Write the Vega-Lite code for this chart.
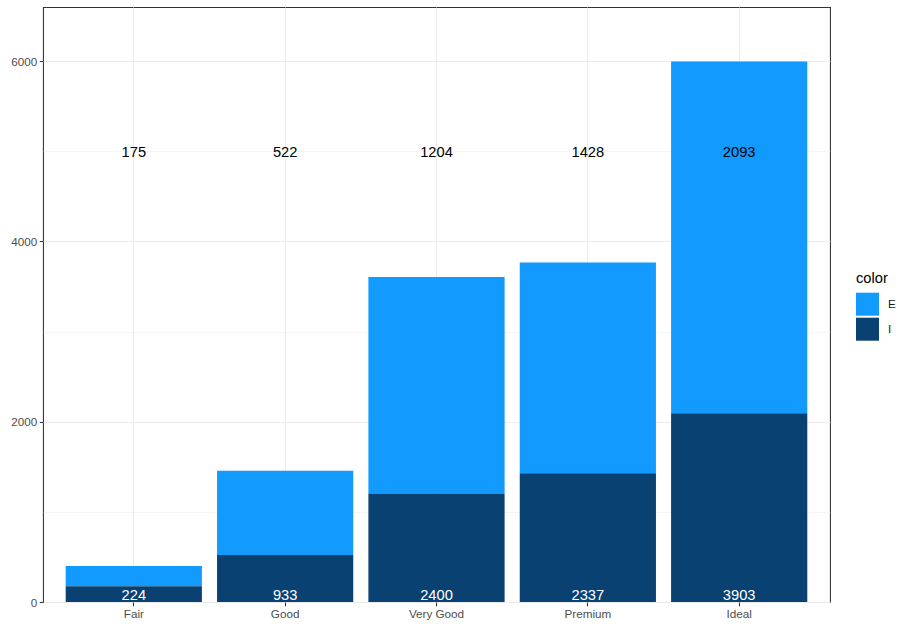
{
  "$schema": "https://vega.github.io/schema/vega-lite/v6.json",
  "width": 787,
  "height": 595,
  "autosize": {"type": "none"},
  "padding": {"left": 43, "top": 7, "right": 82, "bottom": 28},
  "background": "white",
  "config": {
    "font": "Liberation Sans",
    "view": {"stroke": "#333333", "strokeWidth": 1.07},
    "axis": {
      "domain": false,
      "gridColor": "#EBEBEB",
      "gridWidth": 1.07,
      "tickColor": "#333333",
      "tickWidth": 1.07,
      "tickSize": 3.7,
      "labelColor": "#4D4D4D",
      "labelFontSize": 11.7,
      "labelPadding": 2.5,
      "title": null
    }
  },
  "data": {
    "values": [
      {"cut": "Fair", "color": "E", "count": 224},
      {"cut": "Good", "color": "E", "count": 933},
      {"cut": "Very Good", "color": "E", "count": 2400},
      {"cut": "Premium", "color": "E", "count": 2337},
      {"cut": "Ideal", "color": "E", "count": 3903},
      {"cut": "Fair", "color": "I", "count": 175},
      {"cut": "Good", "color": "I", "count": 522},
      {"cut": "Very Good", "color": "I", "count": 1204},
      {"cut": "Premium", "color": "I", "count": 1428},
      {"cut": "Ideal", "color": "I", "count": 2093}
    ]
  },
  "layer": [
    {
      "mark": {"type": "bar"},
      "encoding": {
        "x": {
          "field": "cut",
          "type": "nominal",
          "sort": ["Fair", "Good", "Very Good", "Premium", "Ideal"],
          "scale": {"paddingInner": 0.1, "paddingOuter": 0.15},
          "axis": {"grid": true, "bandPosition": 0.5, "labelAngle": 0}
        },
        "y": {
          "field": "count",
          "type": "quantitative",
          "stack": "zero",
          "scale": {"domain": [0, 6600], "nice": false, "zero": true},
          "axis": {"grid": true, "values": [0, 2000, 4000, 6000], "format": "d", "orient": "left"}
        },
        "color": {
          "field": "color",
          "type": "nominal",
          "scale": {"domain": ["E", "I"], "range": ["#139AFF", "#0A4173"]},
          "legend": {
            "orient": "none",
            "legendX": 813,
            "legendY": 264,
            "title": "color",
            "titleFontSize": 14.7,
            "titleFontWeight": "normal",
            "titleColor": "#000000",
            "titlePadding": 7,
            "labelFontSize": 11.7,
            "labelColor": "#1A1A1A",
            "labelOffset": 9,
            "symbolType": "square",
            "symbolSize": 529,
            "symbolStrokeWidth": 0,
            "rowPadding": 2
          }
        },
        "order": {"field": "color", "sort": "descending"}
      }
    },
    {
      "transform": [{"filter": "datum.color == 'I'"}],
      "mark": {"type": "text", "fontSize": 14.7, "color": "#000000", "baseline": "middle", "dy": 2},
      "encoding": {
        "x": {"field": "cut", "type": "nominal", "sort": ["Fair", "Good", "Very Good", "Premium", "Ideal"]},
        "y": {
          "datum": 5000,
          "type": "quantitative",
          "axis": {"grid": true, "gridWidth": 0.53, "values": [1000, 3000, 5000], "labels": false, "ticks": false, "domain": false, "orient": "left"}
        },
        "text": {"field": "count", "type": "quantitative"}
      }
    },
    {
      "transform": [{"filter": "datum.color == 'E'"}],
      "mark": {"type": "text", "fontSize": 14.7, "color": "#FFFFFF", "baseline": "alphabetic", "dy": -2},
      "encoding": {
        "x": {"field": "cut", "type": "nominal", "sort": ["Fair", "Good", "Very Good", "Premium", "Ideal"]},
        "y": {"datum": 0, "type": "quantitative", "axis": null},
        "text": {"field": "count", "type": "quantitative"}
      }
    }
  ],
  "resolve": {"axis": {"y": "independent"}}
}
